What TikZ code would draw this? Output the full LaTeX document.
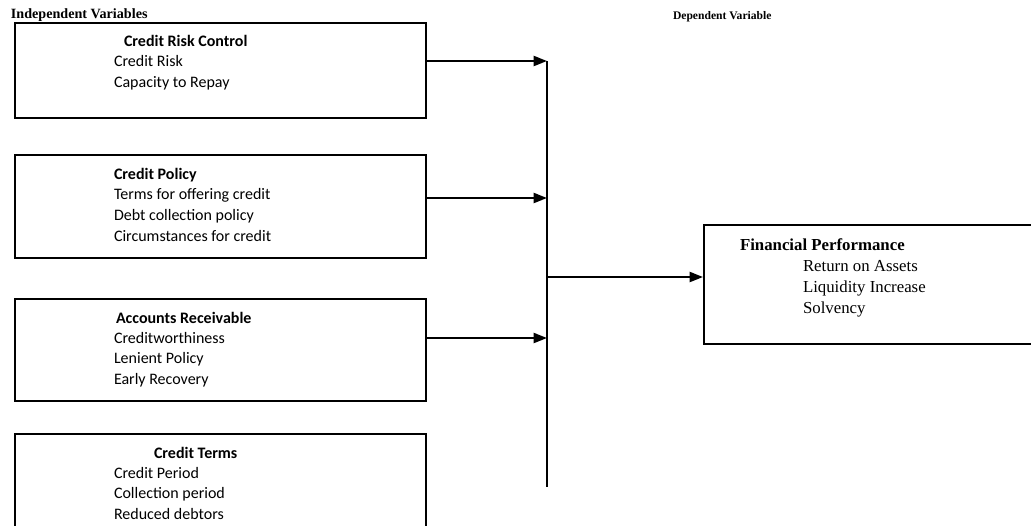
\documentclass[tikz,border=0pt]{standalone}
\usepackage{fontspec}
\setmainfont{Liberation Serif}
\newfontfamily\calibri{Carlito}
\usetikzlibrary{arrows.meta,positioning}

\tikzset{every picture/.style={line width=1.5pt}}
\tikzset{
  varbox/.style={draw, line width=1.5pt, anchor=north west, inner sep=0pt},
  head/.style={anchor=base west, inner sep=0pt, font=\bfseries\fontsize{10.6}{13}\selectfont},
  boxtitle/.style={anchor=base west, inner sep=0pt, font=\calibri\bfseries\fontsize{12}{14}\selectfont},
  boxitem/.style={anchor=base west, inner sep=0pt, font=\calibri\fontsize{12}{14}\selectfont},
  fptitle/.style={anchor=base west, inner sep=0pt, font=\bfseries\fontsize{12.6}{15}\selectfont},
  fpitem/.style={anchor=base west, inner sep=0pt, font=\fontsize{12.6}{15}\selectfont},
  link/.style={line width=1.5pt, -{Triangle[length=10pt,width=7.5pt]}}
}

\begin{document}
\begin{tikzpicture}[x=0.75pt,y=0.75pt,yscale=-1,xscale=1]
\clip (0,0) rectangle (1031,525);
\path[fill=white] (0,0) rectangle (1031,525);

% Headings
\node[head] (indep) at (10,18) {Independent Variables};
\node[head, font=\bfseries\fontsize{8.7}{11}\selectfont] (dep) at (672,19) {Dependent Variable};

% Independent variable boxes
\node[varbox, minimum width=308.25pt, minimum height=71.25pt] (crc) at (14,22) {};
\node[varbox, minimum width=308.25pt, minimum height=77.25pt] (cpol) at (14,154) {};
\node[varbox, minimum width=308.25pt, minimum height=76.5pt] (accr) at (14,298) {};
\node[varbox, minimum width=308.25pt, minimum height=81pt] (cterm) at (14,433) {};

% Box texts
\node[boxtitle] (crc-t) at (123,46) {Credit Risk Control};
\foreach \t [count=\i] in {Credit Risk, Capacity to Repay}
  \node[boxitem] (crc-\i) at (113,46+20.5*\i) {\t};

\node[boxtitle] (cpol-t) at (113,179) {Credit Policy};
\foreach \t [count=\i] in {Terms for offering credit, Debt collection policy, Circumstances for credit}
  \node[boxitem] (cpol-\i) at (113,179+20.7*\i) {\t};

\node[boxtitle] (accr-t) at (115,323) {Accounts Receivable};
\foreach \t [count=\i] in {Creditworthiness, Lenient Policy, Early Recovery}
  \node[boxitem] (accr-\i) at (113,323+20.4*\i) {\t};

\node[boxtitle] (cterm-t) at (153,458) {Credit Terms};
\foreach \t [count=\i] in {Credit Period, Collection period, Reduced debtors}
  \node[boxitem] (cterm-\i) at (113,458+20.4*\i) {\t};

% Dependent variable box
\node[varbox, minimum width=252.75pt, minimum height=89.25pt] (fin) at (703,224) {};
\node[fptitle] (fin-t) at (739,250) {Financial Performance};
\foreach \t [count=\i] in {Return on Assets, Liquidity Increase, Solvency}
  \node[fpitem] (fin-\i) at (802,250+21*\i) {\t};

% Bus line and arrows
\coordinate (j1) at (547,61);
\coordinate (j2) at (547,198);
\coordinate (j3) at (547,338);
\coordinate (jf) at (547,277);
\coordinate (jend) at (547,487);
\draw (j1) -- (jend);
\draw[link] (crc.east |- j1) -- (j1);
\draw[link] (cpol.east |- j2) -- (j2);
\draw[link] (accr.east |- j3) -- (j3);
\draw[link] (jf) -- (fin.west |- jf);

\end{tikzpicture}
\end{document}
